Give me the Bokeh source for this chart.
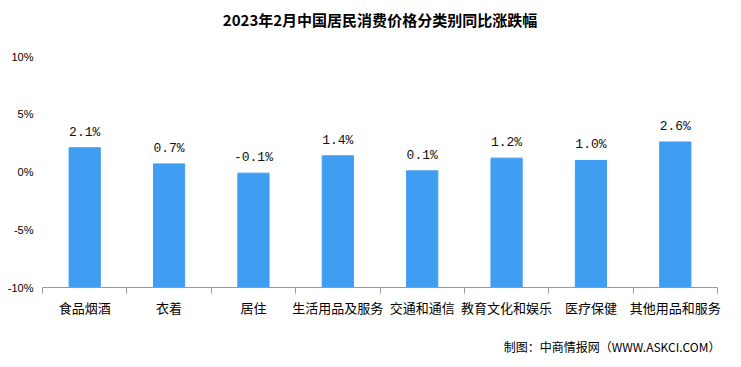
from bokeh.plotting import figure
from bokeh.models import FixedTicker, ColumnDataSource, Range1d, Title
from bokeh.embed import file_html
from bokeh.resources import INLINE

title = "2023年2月中国居民消费价格分类别同比涨跌幅"
categories = ["食品烟酒", "衣着", "居住", "生活用品及服务", "交通和通信", "教育文化和娱乐", "医疗保健", "其他用品和服务"]
values = [2.1, 0.7, -0.1, 1.4, 0.1, 1.2, 1.0, 2.6]
y_ticks = [-10, -5, 0, 5, 10]
y_tick_labels = ["-10%", "-5%", "0%", "5%", "10%"]
footer = "制图：中商情报网（WWW.ASKCI.COM）"

n = len(categories)
xs = [i + 0.5 for i in range(n)]
labels = [f"{v:.1f}%" for v in values]
src = ColumnDataSource(dict(x=xs, top=values, label=labels))

p = figure(width=741, height=367, output_backend="svg", toolbar_location=None, title=None,
           x_range=Range1d(0, n), y_range=Range1d(-10, 10),
           min_border_left=42, min_border_right=24, min_border_top=56, min_border_bottom=80)

# spacer nearest the frame, then the title (outermost)
p.add_layout(Title(text=" ", text_font_size="1px", standoff=19), "above")
p.add_layout(Title(text=title, align="center", text_font="Noto Sans CJK SC",
                   text_font_size="15px", text_font_style="bold", text_color="#000000",
                   standoff=10), "above")

p.outline_line_color = None
p.grid.visible = False
p.background_fill_color = "white"
p.border_fill_color = "white"

p.vbar(x="x", top="top", bottom=-10, width=0.37, color="#3F9DF2", source=src)
p.text(x="x", y="top", text="label", source=src, text_align="center", text_baseline="bottom",
       y_offset=-8, text_font_size="13px", text_color="#111111",
       text_font={"value": "Liberation Mono"})

# x axis: category labels at centres, separator ticks at boundaries
xa = p.xaxis[0]
xa.ticker = FixedTicker(ticks=xs, minor_ticks=list(range(n + 1)))
xa.major_label_overrides = {x: c for x, c in zip(xs, categories)}
xa.major_tick_out = 0
xa.major_tick_in = 0
xa.minor_tick_out = 6
xa.minor_tick_in = 0
xa.minor_tick_line_color = "#999999"
xa.axis_line_color = "#999999"
xa.major_label_text_font = "Noto Sans CJK SC"
xa.major_label_text_font_size = "13px"
xa.major_label_text_color = "#000000"
xa.major_label_standoff = 4

ya = p.yaxis[0]
ya.ticker = FixedTicker(ticks=y_ticks)
ya.major_label_overrides = {t: l for t, l in zip(y_ticks, y_tick_labels)}
ya.axis_line_color = None
ya.major_tick_line_color = None
ya.major_tick_out = 0
ya.major_tick_in = 0
ya.minor_tick_line_color = None
ya.minor_tick_out = 0
ya.major_label_text_font = "Liberation Sans"
ya.major_label_text_font_size = "11px"
ya.major_label_text_color = "#000000"
ya.major_label_standoff = 9

# spacer below the axis, then the source note
p.add_layout(Title(text=" ", text_font_size="1px", standoff=12), "below")
p.add_layout(Title(text=footer, align="right", text_font="Noto Sans CJK SC", text_font_size="12px",
                   text_font_style="normal", text_color="#000000", standoff=2, offset=-3), "below")

open("out.html", "w").write(file_html(p, INLINE))
